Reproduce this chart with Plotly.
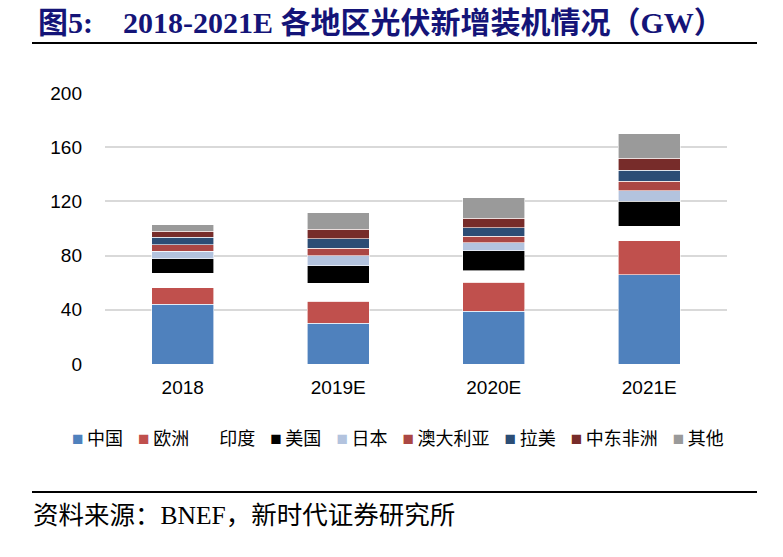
import plotly.graph_objects as go

# chart data (GW)
years = ["2018", "2019E", "2020E", "2021E"]
names = ["中国", "欧洲", "印度", "美国", "日本", "澳大利亚", "拉美", "中东非洲", "其他"]
china = [44.0, 29.9, 39.0, 65.7]
europe = [12.3, 16.5, 21.5, 25.2]
india = [10.6, 13.1, 8.4, 10.8]
usa = [10.9, 13.1, 14.6, 18.3]
japan = [5.4, 7.2, 5.9, 7.9]
australia = [4.7, 5.7, 4.9, 7.1]
latam = [5.7, 6.9, 6.4, 7.9]
mea = [4.2, 7.0, 6.7, 8.9]
others = [4.9, 12.3, 15.3, 18.2]
yticks = [0, 40, 80, 120, 160, 200]

series = [china, europe, india, usa, japan, australia, latam, mea, others]
colors = ["#4F81BD", "#C0504D", "#FFFFFF", "#000000", "#B3C3DE",
          "#AB4744", "#2C4D75", "#772C2A", "#9A9A9A"]

W, H = 783, 557
L, T = 105, 93
pw, ph = 622, 271
R, B = W - L - pw, H - T - ph


def px(x):
    # page pixel -> paper x
    return (x - L) / pw


def py(y):
    # page pixel -> paper y
    return (T + ph - y) / ph


fig = go.Figure()
for name, vals, col in zip(names, series, colors):
    fig.add_trace(go.Bar(
        x=years, y=vals, name=name,
        marker=dict(color=col, line=dict(color="white", width=0.6)),
    ))

fig.update_layout(
    width=W, height=H,
    margin=dict(l=L, r=R, t=T, b=B, autoexpand=False),
    barmode="stack",
    bargap=0.6,
    showlegend=False,
    plot_bgcolor="white",
    paper_bgcolor="white",
    font=dict(family="Liberation Sans, Arial, Noto Sans CJK SC", color="black"),
)
fig.update_yaxes(
    range=[0, 200], tickvals=yticks, showgrid=True,
    gridcolor="#D9D9D9", gridwidth=1.5, zeroline=False, showline=False,
    tickfont=dict(size=19), ticklabelstandoff=22,
)
fig.update_xaxes(
    showline=False, tickfont=dict(size=19), ticklabelstandoff=10,
)

# legend row (built from the series lists)
parts = []
for name, col in zip(names, colors):
    parts.append('<span style="color:%s;font-size:19px">■</span>\u2009%s' % (col, name))
legend_text = "\u00a0\u00a0\u00a0".join(parts)
fig.add_annotation(
    xref="paper", yref="paper", x=px(398), y=py(438),
    text=legend_text, showarrow=False, xanchor="center", yanchor="middle",
    font=dict(size=18, family="Liberation Sans, Noto Sans CJK SC", color="black"),
)

# title
title_font = dict(size=30, family="Liberation Serif, Noto Sans CJK SC", color="#141478")
fig.add_annotation(
    xref="paper", yref="paper", x=px(36), y=py(22), text="<b>图5:</b>",
    showarrow=False, xanchor="left", yanchor="middle", font=title_font,
)
fig.add_annotation(
    xref="paper", yref="paper", x=px(121), y=py(22),
    text="<b>2018-2021E 各地区光伏新增装机情况（GW）</b>",
    showarrow=False, xanchor="left", yanchor="middle", font=title_font,
)

# source note
fig.add_annotation(
    xref="paper", yref="paper", x=px(31), y=py(515),
    text="资料来源：BNEF，新时代证券研究所",
    showarrow=False, xanchor="left", yanchor="middle",
    font=dict(size=25.5, family="Liberation Serif, Noto Sans CJK SC", color="black"),
)

# rules under the title and above the source
for yy in (43, 492):
    fig.add_shape(type="line", xref="paper", yref="paper",
                  x0=px(32), x1=px(757), y0=py(yy), y1=py(yy),
                  line=dict(color="black", width=2))

# drop the default page margin so the figure sits at the window's corner
fig.write_html("out.html", config={"displayModeBar": False},
               post_script="document.body.style.margin='0';")
